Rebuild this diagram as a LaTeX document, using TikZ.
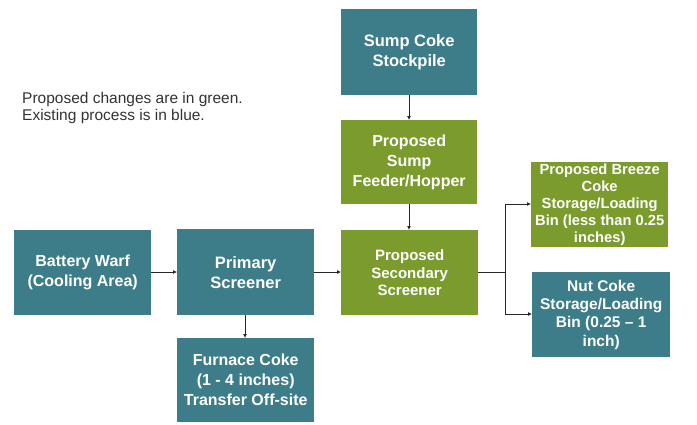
\documentclass[tikz,border=0pt]{standalone}
\usepackage{fontspec}
\setmainfont{Liberation Sans}
\usetikzlibrary{arrows.meta}
\definecolor{exblue}{HTML}{3D7C89}
\definecolor{prgreen}{HTML}{7B9B2C}
\definecolor{legtext}{HTML}{333333}
\tikzset{
  boxbase/.style={draw=none, text=white, font=\bfseries, align=center, inner sep=0pt, anchor=north west},
  bluebox/.style={boxbase, fill=exblue},
  greenbox/.style={boxbase, fill=prgreen},
  flow/.style={draw=black!85, line width=0.9pt, -{Latex[length=4pt,width=4pt]}},
  flowline/.style={draw=black!85, line width=0.9pt}
}
\begin{document}
\begin{tikzpicture}[x=1pt,y=-1pt]
\useasboundingbox (0,0) rectangle (697,424);
\fill[white] (0,0) rectangle (697,424);
% legend
\node[anchor=base west, align=left, text=legtext, font=\fontsize{15.5}{17.5}\selectfont, inner sep=0pt] (legend) at (22,120.5)
  {Proposed changes are in green.\\Existing process is in blue.};
% boxes
\node[bluebox, minimum width=137pt, minimum height=85pt, font=\bfseries\fontsize{16}{20}\selectfont] (bat) at (14,230) {Battery Warf\\(Cooling Area)};
\node[bluebox, minimum width=137pt, minimum height=86pt, font=\bfseries\fontsize{16.5}{20}\selectfont] (prim) at (177,229) {Primary\\Screener};
\node[bluebox, minimum width=137pt, minimum height=84pt, font=\bfseries\fontsize{16}{20}\selectfont] (furn) at (177,338) {Furnace Coke\\(1 - 4 inches)\\Transfer Off-site};
\node[bluebox, minimum width=136pt, minimum height=86pt, font=\bfseries\fontsize{16.5}{20}\selectfont] (sump) at (341,9) {Sump Coke\\Stockpile};
\node[greenbox, minimum width=136pt, minimum height=84pt, font=\bfseries\fontsize{16}{20}\selectfont] (feed) at (341,120) {Proposed\\Sump\\Feeder/Hopper};
\node[greenbox, minimum width=137pt, minimum height=85pt, font=\bfseries\fontsize{15}{17.5}\selectfont] (sec) at (341,230) {Proposed\\Secondary\\Screener};
\node[greenbox, minimum width=137pt, minimum height=85pt, font=\bfseries\fontsize{14.7}{17}\selectfont] (breeze) at (531,162) {Proposed Breeze\\Coke\\Storage/Loading\\Bin (less than 0.25\\inches)};
\node[bluebox, minimum width=138pt, minimum height=85pt, font=\bfseries\fontsize{15.5}{18.3}\selectfont] (nut) at (532,272) {Nut Coke\\Storage/Loading\\Bin (0.25 -- 1\\inch)};
% connectors
\coordinate (j) at (505,272);
\draw[flow] (bat.east |- 0,272) -- (prim.west |- 0,272);
\draw[flow] (prim.east |- 0,272) -- (sec.west |- 0,272);
\draw[flow] (prim.south -| 245,0) -- (furn.north -| 245,0);
\draw[flow] (sump.south -| 409,0) -- (feed.north -| 409,0);
\draw[flow] (feed.south -| 409,0) -- (sec.north -| 409,0);
\draw[flowline] (sec.east |- 0,272) -- (j);
\draw[flow] (j) |- (breeze.west |- 0,204);
\draw[flow] (j) |- (nut.west |- 0,314);
\end{tikzpicture}
\end{document}
